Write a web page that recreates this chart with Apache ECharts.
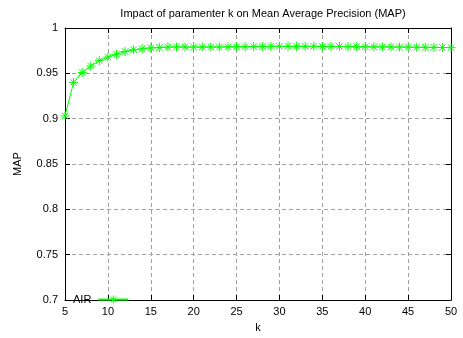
<!DOCTYPE html>
<html>
<head>
<meta charset="utf-8">
<script src="https://cdn.jsdelivr.net/npm/echarts@6/dist/echarts.min.js"></script>
<style>
  html, body { margin: 0; padding: 0; background: #fff; }
  #chart { width: 463px; height: 338px; }
</style>
</head>
<body>
<div id="chart"></div>
<script>
const kValues = [5, 6, 7, 8, 9, 10, 11, 12, 13, 14, 15, 16, 17, 18, 19, 20, 21, 22, 23, 24, 25, 26, 27,
  28, 29, 30, 31, 32, 33, 34, 35, 36, 37, 38, 39, 40, 41, 42, 43, 44, 45, 46, 47, 48, 49, 50];
const mapValues = [0.903, 0.940, 0.951, 0.958, 0.964, 0.968, 0.971, 0.974, 0.976, 0.977, 0.978, 0.9785, 0.979, 0.979,
  0.979, 0.979, 0.979, 0.979, 0.979, 0.9792, 0.9793, 0.9794, 0.9795, 0.9796, 0.9797, 0.9798, 0.9798,
  0.9798, 0.9798, 0.9798, 0.9797, 0.9797, 0.9796, 0.9795, 0.9794, 0.9793, 0.9792, 0.9791, 0.979,
  0.979, 0.9789, 0.9788, 0.9787, 0.9786, 0.9785, 0.9784];
const xTicks = [5, 10, 15, 20, 25, 30, 35, 40, 45, 50];
const yTicks = [0.7, 0.75, 0.8, 0.85, 0.9, 0.95, 1];

const chart = echarts.init(document.getElementById('chart'));
const font = 'Liberation Sans, Arial, sans-serif';
const star = 'path://M0,-5L0,5M-5,0L5,0M-3.6,-3.6L3.6,3.6M-3.6,3.6L3.6,-3.6';
const gridLine = { show: true, lineStyle: { color: '#a0a0a0', type: [4, 3], width: 1 } };
const axisLine = { show: true, lineStyle: { color: '#000', width: 1 } };
const tick = { show: true, inside: true, length: 5, lineStyle: { color: '#000' } };

chart.setOption({
  animation: false,
  title: {
    text: 'Impact of paramenter k on Mean Average Precision (MAP)',
    left: 258, top: 3, textAlign: 'center',
    textStyle: { fontFamily: font, fontSize: 11, fontWeight: 'normal', color: '#000' }
  },
  grid: { left: 65, right: 12, top: 28, bottom: 34 },
  legend: {
    left: 68, top: 288,
    align: 'right',
    itemWidth: 30, itemHeight: 10,
    textStyle: { fontFamily: font, fontSize: 11, color: '#000', padding: [0, 2, 0, 0] },
    itemStyle: { color: 'none', borderColor: '#00ff00', borderWidth: 1 },
    data: ['AIR']
  },
  xAxis: [{
    type: 'value', min: 5, max: 50, interval: 5,
    name: 'k', nameLocation: 'middle', nameGap: 22,
    nameTextStyle: { fontFamily: font, fontSize: 11, color: '#000' },
    axisLine, axisTick: tick, splitLine: gridLine,
    axisLabel: { fontFamily: font, fontSize: 11, color: '#000', margin: 6,
      formatter: v => xTicks.includes(v) ? String(v) : '' }
  }, {
    type: 'value', min: 5, max: 50, interval: 5, position: 'top',
    axisLine, axisTick: tick, splitLine: { show: false }, axisLabel: { show: false }
  }],
  yAxis: [{
    type: 'value', min: 0.7, max: 1, interval: 0.05,
    name: 'MAP', nameLocation: 'middle', nameGap: 42,
    nameTextStyle: { fontFamily: font, fontSize: 11, color: '#000' },
    axisLine, axisTick: tick, splitLine: gridLine,
    axisLabel: { fontFamily: font, fontSize: 11, color: '#000', margin: 7,
      formatter: v => {
        const t = yTicks.find(y => Math.abs(y - v) < 1e-9);
        return t === undefined ? '' : String(t);
      } }
  }, {
    type: 'value', min: 0.7, max: 1, interval: 0.05, position: 'right',
    axisLine, axisTick: tick, splitLine: { show: false }, axisLabel: { show: false }
  }],
  series: [{
    name: 'AIR',
    type: 'line',
    data: kValues.map((k, i) => [k, mapValues[i]]),
    symbol: star,
    symbolSize: 9,
    showAllSymbol: true,
    lineStyle: { color: '#00ff00', width: 1 },
    itemStyle: { color: 'none', borderColor: '#00ff00', borderWidth: 1 }
  }]
});
</script>
</body>
</html>
